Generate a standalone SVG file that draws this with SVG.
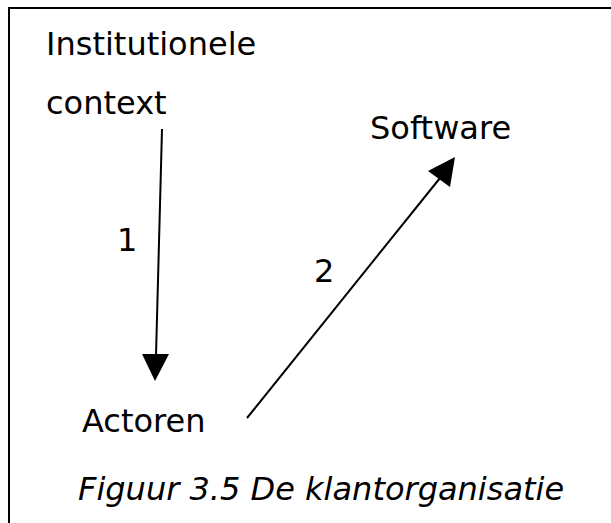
<svg xmlns="http://www.w3.org/2000/svg" width="611" height="523" viewBox="0 0 611 523">
<style>
text{font-family:"DejaVu Sans",sans-serif;font-size:32px;fill:#000}
.cap{font-style:italic}
.ln{stroke:#000;stroke-width:2;fill:none}
</style>
<rect x="0" y="0" width="611" height="523" fill="#fff"/>
<g id="frame"><path class="ln" d="M9,540 V8 H640"/></g>
<g id="institutionele-context"><text x="46" y="55">Institutionele</text><text x="46" y="114">context</text></g>
<g id="software"><text x="370" y="139">Software</text></g>
<g id="actoren"><text x="82" y="432">Actoren</text></g>
<g id="connectors">
<line class="ln" x1="162" y1="129" x2="156" y2="356"/>
<polygon points="142,354 169,354 155,381"/>
<text x="117" y="251">1</text>
<line class="ln" x1="247" y1="418" x2="440" y2="178"/>
<polygon points="455,157 428,171 450,187"/>
<text x="314" y="282">2</text>
</g>
<g id="caption"><text class="cap" x="78" y="500">Figuur 3.5 De klantorganisatie</text></g>
</svg>
